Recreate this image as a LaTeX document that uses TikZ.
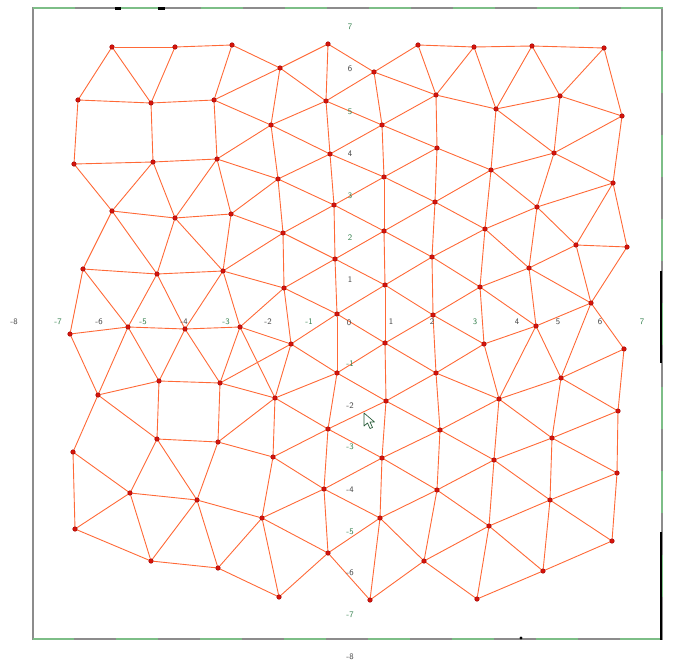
\documentclass[tikz,border=0pt]{standalone}
\usetikzlibrary{backgrounds}
\definecolor{meshline}{RGB}{255,105,55}
\definecolor{meshdot}{RGB}{215,20,10}
\definecolor{labgreen}{RGB}{55,130,80}
\definecolor{labgray}{RGB}{70,70,70}
\definecolor{framegray}{RGB}{140,140,140}
\definecolor{framegreen}{RGB}{125,190,135}

\begin{document}
\begin{tikzpicture}[
    x=1pt, y=-1pt,
    vtx/.style={circle, fill=meshdot, draw=red!60!black, line width=0.4pt,
                inner sep=0pt, minimum size=4.6pt},
    edge/.style={draw=meshline, line width=0.9pt},
    axlab/.style={font=\sffamily\fontsize{8.5}{9}\selectfont, inner sep=0pt},
    barmark/.style={line width=2.3pt, black}
]
\useasboundingbox (0,0) rectangle (680,661);

% ---- frame of the view ----
\draw[framegray, line width=1.1pt] (33,8) rectangle (662,639);
\draw[framegreen, line width=1.1pt, dash pattern=on 42pt off 42pt]
  (33,8) -- (662,8) -- (662,639) -- (33,639);
\draw[barmark] (661,271) -- (661,363);
\draw[barmark] (661,532) -- (661,640);
\draw[barmark] (115,8.5) -- (121,8.5);
\draw[barmark] (158,8.5) -- (165,8.5);
\fill (521,638) circle (1.6);

% ---- axis numbers ----
\foreach \v/\px/\col [count=\i] in {-8/14/labgray, -7/58/labgreen, -6/99/labgray,
    -5/143/labgreen, -4/184/labgray, -3/226/labgreen, -2/268/labgray,
    -1/309/labgreen, 1/391/labgray, 2/432/labgray, 3/475/labgreen,
    4/517/labgray, 5/558/labgray, 6/600/labgray, 7/642/labgreen} {
  \node[axlab, text=\col] (xl\i) at (\px,322) {\v};
}
\node[axlab, text=labgray] (org) at (349,323) {0};
\foreach \v/\py/\col [count=\i] in {7/27/labgreen, 6/69/labgray, 5/112/labgreen,
    4/154/labgray, 3/196/labgreen, 2/238/labgreen, 1/280/labgray,
    -1/364/labgreen, -2/406/labgray, -3/447/labgreen, -4/490/labgray,
    -5/532/labgreen, -6/573/labgray, -7/615/labgreen, -8/657/labgray} {
  \node[axlab, text=\col] (yl\i) at (350,\py) {\v};
}

% ---- mesh vertices ----
\foreach \n/\px/\py in {a1/112/47, a2/175/47, a3/232/45, a4/328/44, a5/418/45,
    a6/474/47, a7/532/46, a8/604/48, e1/280/68, e2/374/72,
    b1/78/100, b2/151/103, b3/214/100, e3/326/101, f/436/95, k1/560/96,
    k2/496/109, k3/622/116, g1/271/125, g2/382/125,
    h1/330/154, h2/437/148, l1/554/153, c1/74/164, c2/153/162, c3/217/159,
    l2/491/170, i1/278/179, i2/384/177, l3/613/183,
    j1/334/205, j2/435/202, m1/537/207, d1/112/211, d2/175/218, d3/231/214,
    x1/485/229, q1/283/233, q2/384/231, x2/576/245, x3/627/247,
    r1/335/259, r2/432/257, y1/529/268, n1/83/269, n2/157/274, n3/223/271,
    s1/284/288, s2/385/285, y2/480/287, y3/591/303,
    t1/337/314, t2/433/315, z1/536/326,
    o1/70/334, o2/128/327, o3/185/329, o4/240/327,
    u1/291/344, u2/385/343, z2/484/344, z3/624/349,
    v1/337/373, v2/436/373, aa1/561/378,
    p1/98/395, p2/159/381, p3/220/383,
    w1/275/398, w2/386/401, aa2/499/399, aa3/618/411,
    ff1/328/429, ff2/440/430, ll1/552/438,
    bb1/73/452, bb2/157/439, bb3/218/442,
    gg1/273/457, gg2/382/458, ll2/494/460, ll3/617/473,
    cc1/130/493, cc2/197/500, hh1/324/489, hh2/437/490, mm1/550/500,
    dd1/75/529, ii1/262/518, ii2/380/518, mm2/489/526, mm3/612/541,
    ee1/151/561, ee2/218/568, jj1/328/553, jj2/424/561, nn1/543/571,
    kk1/279/597, kk2/370/600, nn2/477/599} {
  \node[vtx] (\n) at (\px,\py) {};
}

% ---- mesh edges ----
\begin{scope}[on background layer]
% upper left
\foreach \u/\w in {a1/a2, a2/a3, a3/e1, a1/b1, a1/b2, a2/b2, a3/b3, b1/b2,
    b2/b3, b3/e1, b3/g1, b1/c1, b2/c2, b3/c3, c1/c2, c2/c3, c3/g1, c3/i1,
    c1/d1, c2/d1, c2/d2, c3/d2, c3/d3, d1/d2, d2/d3, d3/i1}
  \draw[edge] (\u) -- (\w);
% upper middle
\foreach \u/\w in {e1/a4, a4/e2, e2/a5, a5/f, a5/a6, e1/e3, a4/e3, e2/e3,
    e2/g2, e2/f, e1/g1, e3/g1, e3/g2, e3/h1, g2/f, g2/h2, f/h2, g1/h1, h1/g2,
    g1/i1, h1/i1, h1/i2, g2/i2, h2/i2, i1/j1, h1/j1, i2/j1, i2/j2, h2/j2,
    h2/l2}
  \draw[edge] (\u) -- (\w);
% upper right
\foreach \u/\w in {a6/a7, a7/a8, a6/k2, a6/f, a7/k2, a7/k1, a8/k1, a8/k3,
    k1/k2, k1/k3, k1/l1, k2/l1, k3/l1, k2/l2, f/k2, l1/l2, l1/l3, k3/l3,
    l1/m1, l2/m1, l3/m1, l2/j2, l3/x3, l3/x2, l2/x1}
  \draw[edge] (\u) -- (\w);
% right middle
\foreach \u/\w in {m1/x1, m1/x2, m1/y1, x1/y1, x2/y1, x2/x3, x2/y3, x3/y3,
    y1/y2, y1/y3, y1/z1, x1/y2, y2/z1, y3/z1, y3/z3, y3/aa1, z1/aa1, z1/z2,
    z1/aa2, y2/z2, z2/aa2, z3/aa1, z3/aa3, aa1/aa2, aa1/aa3, x1/j2, x1/r2,
    y2/r2, y2/t2, z2/t2, z2/v2, aa2/v2, aa2/ff2}
  \draw[edge] (\u) -- (\w);
% centre
\foreach \u/\w in {j1/q1, j1/q2, j1/r1, j2/q2, i1/q1, i2/q2, q1/s1, q1/r1,
    r1/q2, r1/s1, r1/s2, r1/t1, q2/r2, q2/s2, r2/s2, j2/r2, s1/t1, s2/t1,
    s2/t2, r2/t2, s1/u1, s1/o4, t1/u1, t1/v1, t1/u2, t2/u2, s2/u2, t2/v2,
    u1/v1, u2/v1, u2/v2, u2/w2, v1/w1, v1/w2, v2/w2, u1/w1, o4/u1, o4/w1,
    s1/n3, q1/d3, q1/n3}
  \draw[edge] (\u) -- (\w);
% left middle
\foreach \u/\w in {d3/n3, d2/n3, d2/n2, d1/n2, d1/n1, n1/n2, n2/n3, n1/o1,
    n1/o2, n2/o2, n2/o3, n3/o3, n3/o4, o1/o2, o2/o3, o3/o4, o1/p1, o2/p1,
    o2/p2, o3/p2, o3/p3, o4/p3, p1/p2, p2/p3, p3/u1, p3/w1}
  \draw[edge] (\u) -- (\w);
% lower left
\foreach \u/\w in {p1/bb1, p1/bb2, p2/bb2, p3/bb3, bb2/bb3, bb3/w1, bb3/gg1,
    bb1/cc1, bb2/cc1, bb2/cc2, bb3/cc2, bb1/dd1, cc1/dd1, cc1/cc2, cc1/ee1,
    cc2/ee1, cc2/ee2, dd1/ee1, ee1/ee2, cc2/ii1, ee2/kk1, ee2/ii1}
  \draw[edge] (\u) -- (\w);
% lower middle
\foreach \u/\w in {w1/ff1, w2/ff1, w2/ff2, w1/gg1, ff1/gg1, ff1/gg2, ff1/hh1,
    v1/ff1, w2/gg2, ff2/gg2, gg1/hh1, gg2/hh1, gg2/hh2, gg2/ii2, ff2/hh2,
    gg1/ii1, hh1/ii1, hh1/ii2, hh1/jj1, hh2/ii2, ii1/jj1, ii2/jj1, ii2/jj2,
    ii2/kk2, ii1/kk1, jj1/kk1, jj1/kk2, kk2/jj2, hh2/jj2, v2/ff2}
  \draw[edge] (\u) -- (\w);
% lower right
\foreach \u/\w in {aa2/ll1, aa2/ll2, aa3/ll1, aa3/ll3, aa1/ll1, ff2/ll2,
    ll1/ll2, ll1/ll3, ll1/mm1, ll2/mm1, ll3/mm1, ll2/mm2, ll3/mm3, mm1/mm2,
    mm1/mm3, mm1/nn1, mm2/nn1, mm3/nn1, mm2/nn2, nn1/nn2, ll2/hh2, mm2/hh2,
    mm2/jj2, nn2/jj2}
  \draw[edge] (\u) -- (\w);
\end{scope}

% ---- mouse pointer ----
\draw[fill=white, draw=labgreen!70!black, line width=0.7pt, line join=round]
  (364,413) -- (364,426) -- (367.5,423) -- (370,428.5) -- (372.5,427.5)
  -- (370,422) -- (374.5,422) -- cycle;

\end{tikzpicture}
\end{document}
